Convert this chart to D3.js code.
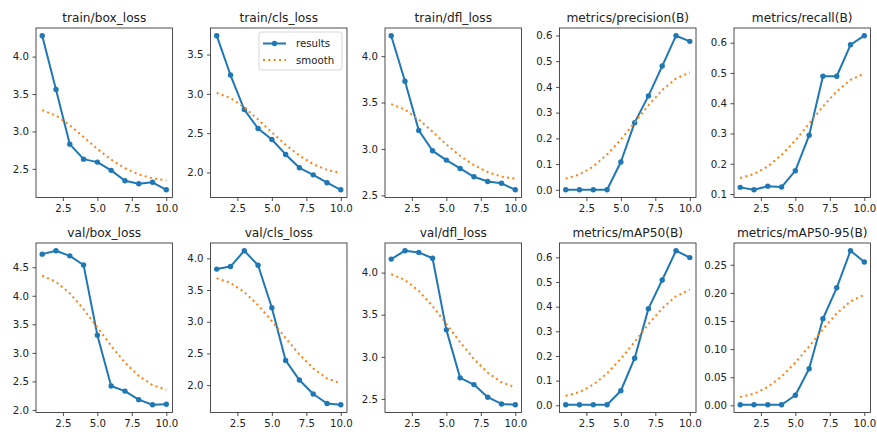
<!DOCTYPE html>
<html>
<head>
<meta charset="utf-8">
<script src="https://cdn.jsdelivr.net/npm/d3@7"></script>
<style>
  body { margin: 0; background: #fff; }
  svg { display: block; }
  text { font-family: "DejaVu Sans", sans-serif; }
</style>
</head>
<body>
<svg id="chart" width="877" height="432"></svg>
<script>
// Training run: 10 epochs, per-epoch losses and detection metrics
const epochs = [1, 2, 3, 4, 5, 6, 7, 8, 9, 10];

const trainBoxLoss       = [4.28, 3.56, 2.83, 2.63, 2.59, 2.48, 2.34, 2.30, 2.32, 2.22];
const trainBoxLossSmooth = [3.285, 3.212, 3.084, 2.926, 2.766, 2.623, 2.509, 2.426, 2.373, 2.348];
const trainClsLoss       = [3.74, 3.24, 2.80, 2.56, 2.42, 2.23, 2.06, 1.97, 1.87, 1.78];
const trainClsLossSmooth = [3.013, 2.947, 2.828, 2.675, 2.510, 2.352, 2.215, 2.106, 2.032, 1.994];
const trainDflLoss       = [4.22, 3.73, 3.20, 2.98, 2.88, 2.79, 2.70, 2.65, 2.63, 2.56];
const trainDflLossSmooth = [3.483, 3.424, 3.317, 3.185, 3.049, 2.925, 2.825, 2.751, 2.702, 2.679];
const precisionB         = [0.0, 0.0, 0.0, 0.0, 0.108, 0.261, 0.365, 0.481, 0.599, 0.577];
const precisionBSmooth   = [0.0435, 0.0592, 0.0906, 0.1368, 0.1953, 0.2614, 0.3283, 0.3877, 0.4324, 0.4562];
const recallB            = [0.122, 0.114, 0.126, 0.123, 0.177, 0.294, 0.489, 0.489, 0.593, 0.623];
const recallBSmooth      = [0.153, 0.166, 0.191, 0.229, 0.277, 0.333, 0.389, 0.439, 0.477, 0.498];
const valBoxLoss         = [4.73, 4.79, 4.70, 4.54, 3.31, 2.42, 2.33, 2.18, 2.09, 2.10];
const valBoxLossSmooth   = [4.352, 4.245, 4.043, 3.766, 3.447, 3.123, 2.831, 2.596, 2.435, 2.354];
const valClsLoss         = [3.83, 3.87, 4.12, 3.89, 3.22, 2.39, 2.08, 1.86, 1.71, 1.69];
const valClsLossSmooth   = [3.686, 3.612, 3.468, 3.262, 3.011, 2.741, 2.483, 2.265, 2.107, 2.026];
const valDflLoss         = [4.16, 4.26, 4.24, 4.17, 3.32, 2.75, 2.67, 2.52, 2.44, 2.43];
const valDflLossSmooth   = [3.980, 3.912, 3.781, 3.602, 3.391, 3.174, 2.974, 2.811, 2.697, 2.639];
const mAP50B             = [0.002, 0.002, 0.002, 0.002, 0.059, 0.191, 0.392, 0.508, 0.627, 0.599];
const mAP50BSmooth       = [0.0385, 0.0533, 0.0836, 0.1292, 0.1888, 0.2576, 0.3289, 0.3933, 0.4423, 0.4687];
const mAP5095B           = [0.001, 0.001, 0.001, 0.001, 0.018, 0.065, 0.154, 0.209, 0.275, 0.255];
const mAP5095BSmooth     = [0.0147, 0.0207, 0.0326, 0.0512, 0.0759, 0.1049, 0.1354, 0.1633, 0.1849, 0.1965];

const panelTitles = [
  "train/box_loss", "train/cls_loss", "train/dfl_loss", "metrics/precision(B)", "metrics/recall(B)",
  "val/box_loss", "val/cls_loss", "val/dfl_loss", "metrics/mAP50(B)", "metrics/mAP50-95(B)"
];

const xTicks = [2.5, 5.0, 7.5, 10.0];
const yTicksTrainBox  = [2.5, 3.0, 3.5, 4.0];
const yTicksTrainCls  = [2.0, 2.5, 3.0, 3.5];
const yTicksTrainDfl  = [2.5, 3.0, 3.5, 4.0];
const yTicksPrecision = [0.0, 0.1, 0.2, 0.3, 0.4, 0.5, 0.6];
const yTicksRecall    = [0.1, 0.2, 0.3, 0.4, 0.5, 0.6];
const yTicksValBox    = [2.0, 2.5, 3.0, 3.5, 4.0, 4.5];
const yTicksValCls    = [2.0, 2.5, 3.0, 3.5, 4.0];
const yTicksValDfl    = [2.5, 3.0, 3.5, 4.0];
const yTicksMAP50     = [0.0, 0.1, 0.2, 0.3, 0.4, 0.5, 0.6];
const yTicksMAP5095   = [0.00, 0.05, 0.10, 0.15, 0.20, 0.25];

const legendLabels = ["results", "smooth"];

const panels = [
  { values: trainBoxLoss, smooth: trainBoxLossSmooth, ticks: yTicksTrainBox,  fmt: ".1f" },
  { values: trainClsLoss, smooth: trainClsLossSmooth, ticks: yTicksTrainCls,  fmt: ".1f" },
  { values: trainDflLoss, smooth: trainDflLossSmooth, ticks: yTicksTrainDfl,  fmt: ".1f" },
  { values: precisionB,   smooth: precisionBSmooth,   ticks: yTicksPrecision, fmt: ".1f" },
  { values: recallB,      smooth: recallBSmooth,      ticks: yTicksRecall,    fmt: ".1f" },
  { values: valBoxLoss,   smooth: valBoxLossSmooth,   ticks: yTicksValBox,    fmt: ".1f" },
  { values: valClsLoss,   smooth: valClsLossSmooth,   ticks: yTicksValCls,    fmt: ".1f" },
  { values: valDflLoss,   smooth: valDflLossSmooth,   ticks: yTicksValDfl,    fmt: ".1f" },
  { values: mAP50B,       smooth: mAP50BSmooth,       ticks: yTicksMAP50,     fmt: ".1f" },
  { values: mAP5095B,     smooth: mAP5095BSmooth,     ticks: yTicksMAP5095,   fmt: ".2f" }
].map((p, i) => ({ ...p, title: panelTitles[i] }));

// Layout of the 2 x 5 grid
const colLeft = [36, 210.5, 385, 559.5, 734];
const rowTop = [28, 243];
const plotW = 136.5, plotH = 169.5;

const blue = "#1f77b4", orange = "#ff7f0e", ink = "#222";
const tickFont = 10.2, titleFont = 12.2;
const markerR = 2.7;

const svg = d3.select("#chart");

function padded(extent, frac) {
  const span = extent[1] - extent[0];
  return [extent[0] - span * frac, extent[1] + span * frac];
}

const x = d3.scaleLinear().domain(padded([1, 10], 0.05)).range([0, plotW]);

panels.forEach((p, i) => {
  const col = i % 5, row = Math.floor(i / 5);
  const g = svg.append("g").attr("transform", `translate(${colLeft[col]},${rowTop[row]})`);

  const ext = d3.extent(p.values.concat(p.smooth));
  const y = d3.scaleLinear().domain(padded(ext, 0.05)).range([plotH, 0]);

  // axes
  const xAxis = d3.axisBottom(x).tickValues(xTicks).tickFormat(d3.format(".1f"))
    .tickSize(3.5).tickPadding(3.5);
  const yAxis = d3.axisLeft(y).tickValues(p.ticks).tickFormat(d3.format(p.fmt))
    .tickSize(3.5).tickPadding(3.5);

  const gx = g.append("g").attr("transform", `translate(0,${plotH})`).call(xAxis);
  const gy = g.append("g").call(yAxis);
  [gx, gy].forEach(a => {
    a.select(".domain").remove();
    a.selectAll(".tick line").attr("stroke", ink).attr("stroke-width", 0.8);
    a.selectAll(".tick text").attr("fill", ink).attr("font-size", tickFont)
      .attr("font-family", "DejaVu Sans, sans-serif");
  });

  const pts = epochs.map((e, k) => [e, p.values[k]]);
  const spts = epochs.map((e, k) => [e, p.smooth[k]]);
  const line = d3.line().x(d => x(d[0])).y(d => y(d[1]));

  // per-epoch results with point markers
  g.append("path").datum(pts).attr("d", line)
    .attr("fill", "none").attr("stroke", blue).attr("stroke-width", 2)
    .attr("stroke-linejoin", "round").attr("stroke-linecap", "butt");
  g.selectAll("circle.pt").data(pts).join("circle").attr("class", "pt")
    .attr("cx", d => x(d[0])).attr("cy", d => y(d[1])).attr("r", markerR).attr("fill", blue);

  // smoothed trend, dotted
  g.append("path").datum(spts).attr("d", line)
    .attr("fill", "none").attr("stroke", orange).attr("stroke-width", 2)
    .attr("stroke-dasharray", "2,3.35").attr("stroke-linecap", "butt");

  // frame
  g.append("rect").attr("width", plotW).attr("height", plotH)
    .attr("fill", "none").attr("stroke", ink).attr("stroke-width", 0.8);

  // title
  g.append("text").attr("x", plotW / 2).attr("y", -6.2).attr("text-anchor", "middle")
    .attr("font-size", titleFont).attr("fill", ink).text(p.title);

  // legend on the second panel
  if (i === 1) {
    const lw = 83, lh = 38;
    const lg = g.append("g").attr("transform", `translate(${plotW - 5 - lw},4)`);
    lg.append("rect").attr("width", lw).attr("height", lh).attr("rx", 2.5)
      .attr("fill", "#fff").attr("fill-opacity", 0.8).attr("stroke", "#cccccc").attr("stroke-width", 0.8);
    const rowsY = [11.5, 28];
    lg.append("line").attr("x1", 4).attr("x2", 27).attr("y1", rowsY[0]).attr("y2", rowsY[0])
      .attr("stroke", blue).attr("stroke-width", 2);
    lg.append("circle").attr("cx", 15.5).attr("cy", rowsY[0]).attr("r", markerR).attr("fill", blue);
    lg.append("line").attr("x1", 4).attr("x2", 27).attr("y1", rowsY[1]).attr("y2", rowsY[1])
      .attr("stroke", orange).attr("stroke-width", 2).attr("stroke-dasharray", "2,3.35");
    legendLabels.forEach((t, k) => {
      lg.append("text").attr("x", 37).attr("y", rowsY[k]).attr("dy", "0.35em")
        .attr("font-size", tickFont).attr("fill", ink).text(t);
    });
  }
});
</script>
</body>
</html>
